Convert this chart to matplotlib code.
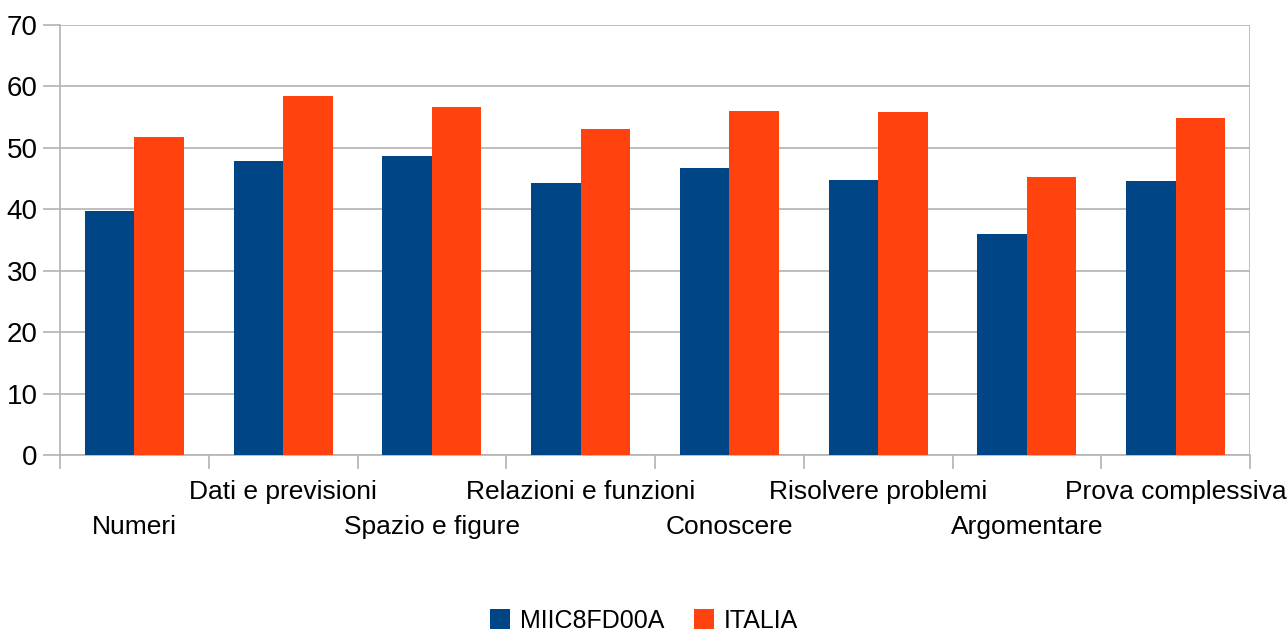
import matplotlib
matplotlib.use("Agg")
import matplotlib.pyplot as plt
import numpy as np

categories = ["Numeri", "Dati e previsioni", "Spazio e figure", "Relazioni e funzioni",
              "Conoscere", "Risolvere problemi", "Argomentare", "Prova complessiva"]
school = [39.8, 47.8, 48.6, 44.3, 46.8, 44.8, 36.0, 44.6]
italia = [51.7, 58.4, 56.6, 53.0, 56.0, 55.9, 45.2, 54.8]
series_names = ["MIIC8FD00A", "ITALIA"]

blue = "#004586"
orange = "#ff420e"
grid_col = "#b3b3b3"

plt.rcParams['font.family'] = ['Liberation Sans', 'DejaVu Sans']

fig = plt.figure(figsize=(12.88, 6.33), dpi=100)
ax = fig.add_axes([60/1288, 1 - 455/633, 1190/1288, 430/633])

x = np.arange(len(categories))
w = 1/3
ax.bar(x - w/2, school, w, color=blue, label=series_names[0], zorder=3)
ax.bar(x + w/2, italia, w, color=orange, label=series_names[1], zorder=3)

ax.set_xlim(-0.5, len(categories) - 0.5)
ax.set_ylim(0, 70)
ax.set_yticks(range(0, 71, 10))
ax.yaxis.grid(True, color=grid_col, linewidth=1.2, zorder=0)
ax.tick_params(axis='y', length=12, width=1.2, color=grid_col, labelsize=20, pad=4)

# category labels at centres, staggered on two rows
ax.set_xticks(x)
ax.set_xticklabels(categories, fontsize=19)
ax.tick_params(axis='x', which='major', length=0)
for i, t in enumerate(ax.xaxis.get_major_ticks()):
    t.set_pad(43 if i % 2 == 0 else 18)

# boundary ticks
ax.set_xticks(np.arange(-0.5, len(categories)), minor=True)
ax.tick_params(axis='x', which='minor', length=10, width=1.2, color=grid_col)

for s in ["top", "right"]:
    ax.spines[s].set_visible(False)
ax.spines["left"].set_color(grid_col)
ax.spines["bottom"].set_color(grid_col)
ax.spines["left"].set_linewidth(1.2)
ax.spines["bottom"].set_linewidth(1.2)

# right border line like the reference
ax.axvline(len(categories) - 0.5, color=grid_col, linewidth=1.2, zorder=1)

fig.legend(loc='lower center', bbox_to_anchor=(0.5, -0.035), ncol=2, frameon=False,
           fontsize=18, handlelength=0.8, handleheight=0.8, handletextpad=0.4,
           columnspacing=1.2)

fig.savefig("out.png", dpi=100)
